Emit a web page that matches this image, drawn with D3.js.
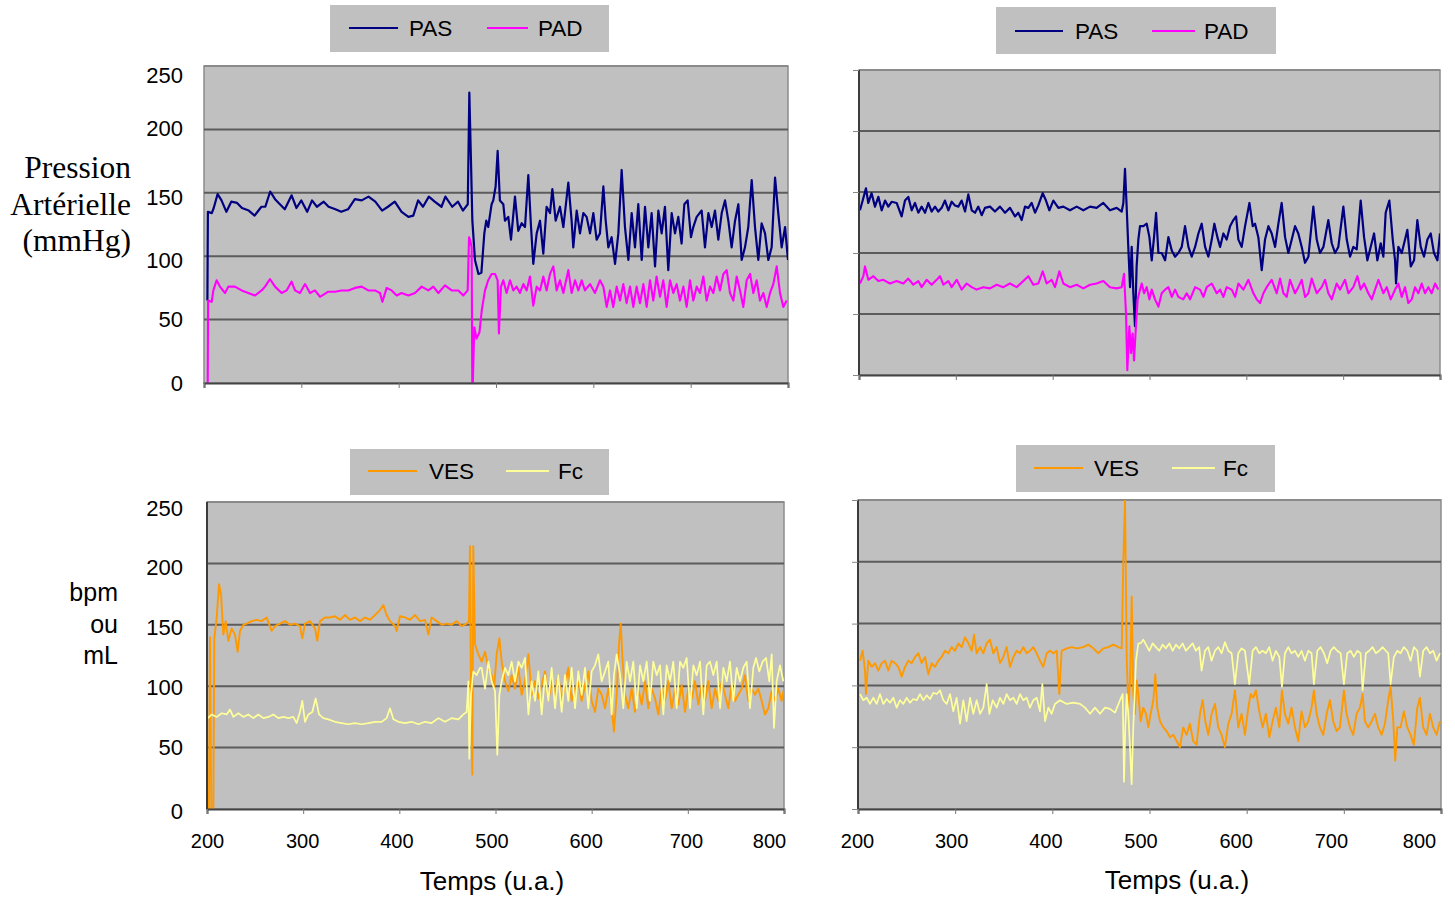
<!DOCTYPE html>
<html><head><meta charset="utf-8">
<script src="https://cdn.jsdelivr.net/npm/d3@7"></script>
<style>
body{margin:0;background:#fff}
svg{display:block}
text{font-family:"Liberation Sans",Arial,sans-serif;fill:#000}
</style>
</head><body>
<svg id="chart" width="1455" height="899"></svg>
<script>
// ---------------- data ----------------
const xTicks = [200, 300, 400, 500, 600, 700, 800];
const yTicks = [0, 50, 100, 150, 200, 250];
const topSeriesNames = ["PAS", "PAD"];
const bottomSeriesNames = ["VES", "Fc"];
const xTitle = "Temps (u.a.)";
const pressureTitle = ["Pression", "Artérielle", "(mmHg)"];
const bottomTitle = ["bpm", "ou", "mL"];

// [time, value]
const pasLeft = [[203.5,65],[204,135],[208,134],[210,138],[214,149],[218,144],[223,135],[228,143],[234,142],[239,138],[246,136],[252,132],[259,139],[263,139],[268,151],[273,145],[278,141],[283,137],[290,148],[295,138],[300,144],[306,135],[311,144],[316,139],[323,143],[328,139],[335,137],[341,135],[348,137],[355,145],[362,144],[369,147],[376,143],[383,136],[389,139],[396,143],[403,135],[410,131],[415,132],[420,144],[425,139],[431,147],[437,143],[444,139],[448,147],[455,139],[461,143],[466,136],[471,141],[472.6,229],[474.3,175],[475.7,128],[478.4,97],[482,86],[485,87],[488,118],[490,128],[492,123],[495.5,141],[497.2,144],[499.6,155],[501.7,183],[504,144],[507.5,141],[509.2,128],[512.6,131],[515.4,113],[519.5,147],[522.9,120],[526.4,126],[529.8,123],[533.2,164],[536,123],[538.3,94],[541.8,118],[545.2,128],[548.6,102],[552,139],[555.5,134],[557.9,153],[561.3,128],[565.7,139],[569.2,123],[574.3,158],[577.7,128],[579.4,107],[582.9,136],[586.3,118],[589.7,134],[593.1,131],[596.6,118],[600,134],[603.4,113],[606.8,118],[610.3,155],[612.7,128],[615.4,107],[618.8,115],[622.3,94],[625.7,118],[629.1,168],[632.5,123],[636,97],[639.4,134],[642.8,107],[646.2,141],[649.7,97],[653.1,139],[656.5,107],[659.9,134],[663.4,92],[666.8,136],[670.2,118],[673.6,139],[677,89],[680.5,134],[683.9,118],[687.3,131],[690.7,110],[693.5,141],[696.9,144],[700.3,115],[702.7,123],[706.2,131],[711.3,136],[714.7,107],[718.2,134],[721.6,123],[725,136],[728.4,113],[731.9,134],[735.3,144],[738.7,128],[742.1,107],[745.6,128],[749,141],[752.4,97],[755.8,107],[759.2,123],[762.7,160],[766.1,123],[769.5,97],[772.9,126],[776.4,118],[779.8,97],[783.2,107],[786.7,162],[790,134],[793.5,107],[797,123],[800,97]];

const padLeft = [[203.8,0],[204.2,65],[207.9,64],[209.6,73],[213,81],[216.4,76],[221.6,71],[225,76],[231.8,76],[238.7,73],[245.5,71],[252.4,69],[259.2,73],[262.7,76],[267.8,82],[273,76],[279.8,71],[284.9,73],[290,80],[293.5,73],[298.6,71],[303.8,78],[308.9,71],[314,73],[319.2,68],[327.7,72],[334.6,72],[341.4,73],[348.3,73],[355.1,75],[362,76],[368.8,73],[375.7,73],[380.8,71],[383.2,64],[387.7,75],[392.8,73],[398,69],[403,71],[410,69],[416.8,71],[423.6,76],[430.5,73],[435.6,76],[440.8,71],[447.6,77],[454.5,73],[461.3,73],[466.4,69],[470.9,73],[472.3,115],[473.6,112],[475,107],[475.6,0],[476.2,0],[477.7,44],[480,35],[483,40],[485.5,58],[488.7,73],[492,81],[495.5,86],[499,86],[501.7,81],[503,39],[505.1,76],[507.5,81],[510.9,71],[514.4,81],[517.8,73],[521.2,76],[524.6,71],[528.1,78],[531.5,73],[534.9,84],[538.3,61],[541.8,76],[545.2,73],[548.6,84],[552,73],[555.5,86],[558.9,92],[562.3,73],[565.7,81],[569.2,71],[574.3,89],[577.7,71],[581.2,81],[584.6,73],[588,81],[591.4,73],[596.6,78],[601.7,71],[606.8,81],[610.3,76],[613.7,60],[617.1,73],[620.5,60],[624,76],[627.4,65],[630.8,78],[634.2,63],[637.7,76],[641.1,60],[644.5,76],[647.9,63],[651.4,78],[654.8,60],[658.2,81],[661.6,65],[665,84],[668.5,68],[671.9,81],[675.3,60],[678.8,81],[682.2,71],[685.6,78],[689,65],[692.5,76],[695.9,60],[699.3,81],[702.7,65],[706.2,76],[709.6,71],[713,84],[716.4,65],[719.9,76],[723.3,71],[726.7,84],[730.1,73],[733.6,86],[737,89],[740.4,71],[743.8,65],[747.3,84],[750.7,73],[754.1,60],[757.5,81],[761,86],[764.4,71],[767.8,81],[771.2,65],[774.7,71],[778.1,60],[781.5,71],[784.9,78],[788.4,92],[791.8,71],[795.2,60],[798.6,65]];

const pasRight = [[201,135],[203.8,143],[207.2,153],[209.6,141],[213,149],[216.5,138],[220,146],[223.4,135],[226.9,143],[230.3,138],[233.7,142],[238.9,141],[244,130],[247.5,143],[250.9,146],[254.4,135],[257.8,141],[261.3,133],[264.7,138],[268.2,133],[271.6,141],[275,134],[278.5,138],[281.9,134],[285.4,137],[288.8,143],[292.3,135],[295.7,142],[299.1,139],[302.6,138],[306,143],[309.5,134],[312.9,148],[316.4,135],[319.8,133],[323.2,138],[326.7,131],[330.1,137],[335.3,138],[340.4,134],[345.6,138],[350.8,133],[355.9,137],[361.1,130],[364.5,133],[368,127],[371.4,138],[374.9,137],[378.3,141],[381.8,133],[385.2,139],[389.7,149],[393.1,143],[396.6,135],[400.7,143],[405.9,137],[411,138],[417.9,135],[424.8,138],[431.7,135],[438.6,138],[445.4,137],[452.3,141],[459.2,135],[466.1,137],[471.3,134],[473,141],[474.7,169],[476.4,138],[478.1,105],[479.9,72],[481.6,105],[483.3,67],[485,40],[486.7,89],[488.5,111],[490.2,122],[493.7,122],[497.1,124],[499.9,113],[502.3,94],[504.7,113],[506.8,133],[509.2,100],[512.6,100],[516.1,94],[519.5,113],[523,102],[526.4,97],[529.8,100],[533.3,105],[536.7,122],[540.2,105],[543.6,97],[547.1,105],[550.5,116],[553.9,124],[557.4,105],[560.8,97],[564.3,111],[567,124],[570.1,113],[572.9,105],[576.3,116],[579.7,111],[583.2,122],[586.6,127],[589.4,130],[591.8,111],[595.2,105],[598.7,122],[603.2,141],[606.6,122],[609,124],[612.4,113],[615.9,86],[619.3,111],[622.8,122],[626.2,116],[629.7,105],[633.1,124],[636.5,141],[640,113],[643.4,100],[646.9,111],[650.3,122],[653.7,116],[657.2,105],[660.6,92],[664.1,97],[669.2,138],[672.7,111],[676.1,100],[679.6,105],[684.7,127],[688.2,108],[691.6,100],[695,105],[700.2,138],[703.7,111],[707.1,97],[710.5,105],[714,103],[718.1,143],[721.6,113],[725,94],[728.4,105],[731.9,116],[735.3,94],[738.8,108],[741.5,97],[743.9,133],[747.7,143],[751.2,111],[753.6,94],[754.6,75],[757,105],[760.5,100],[763.9,111],[766.3,119],[769.8,89],[773.2,94],[776.6,127],[780.1,105],[783.5,97],[787,111],[790.4,116],[793.8,100],[797.3,94],[800,116]];

const padRight = [[201,75],[204.5,81],[206.2,89],[209.6,78],[214.8,81],[220,77],[225.1,78],[232,75],[238.9,77],[245.8,75],[250.9,79],[256.1,74],[261.3,77],[264.7,72],[269.9,78],[275,74],[280.2,78],[283.6,81],[287.1,74],[292.3,77],[295.7,72],[300.9,78],[306,70],[311.2,75],[316.4,72],[321.5,70],[328.4,72],[335.3,71],[342.2,74],[349.1,72],[355.9,75],[362.8,72],[369.7,77],[374.9,81],[380,74],[385.2,75],[389.7,85],[393.8,75],[399,78],[402.4,72],[406.9,85],[411,75],[417.9,72],[424.8,74],[431.7,71],[438.6,74],[445.4,75],[452.3,77],[459.2,72],[466.1,71],[471.3,72],[473.7,83],[475.7,51],[477.1,4],[479.2,40],[480.9,18],[482.6,34],[484,12],[486,40],[487.8,62],[490.2,70],[492,75],[494.4,67],[497.1,72],[499.9,62],[502.3,70],[505.7,62],[509.2,56],[512.6,67],[516.1,70],[519.5,72],[523,64],[526.4,70],[529.8,64],[535,62],[538.4,67],[541.9,62],[547.1,72],[552.2,70],[555.7,64],[559.1,72],[564.3,75],[569.4,67],[572.9,70],[576.3,64],[579.7,72],[584.9,70],[588.4,64],[591.8,75],[597,70],[602.1,78],[607.3,67],[610.7,62],[614.2,59],[617.6,67],[621,72],[626.2,78],[631.4,67],[634.8,79],[638.3,67],[641.7,64],[645.1,78],[650.3,67],[653.7,72],[657.2,78],[660.6,64],[664.1,67],[667.5,79],[672.7,67],[677.8,72],[681.3,78],[684.7,67],[688.2,62],[693.3,75],[696.8,70],[701.9,78],[705.4,67],[710.5,72],[714.7,81],[718.1,70],[721.6,75],[726,67],[729.5,62],[732.9,70],[736.4,78],[741.5,67],[745,72],[749.1,62],[753.6,70],[757,75],[760.5,64],[763.9,72],[767.3,59],[770.8,62],[774.2,72],[777.7,67],[781.1,75],[784.5,67],[788,72],[791.4,67],[794.9,75],[798.3,70]];

const vesLeft = [[202,0],[203.1,140],[204.5,0],[206.6,0],[207.6,139],[210,155],[212.5,183],[214.6,175],[217,142],[219.4,153],[222.2,137],[225.6,147],[229.1,142],[231.9,128],[234.3,145],[237.8,150],[241.2,151],[246.4,153],[251.6,154],[256.8,153],[262,156],[267.2,145],[270.7,149],[275.9,151],[281.1,153],[286.3,150],[291.5,151],[296.7,149],[299.1,139],[301.9,151],[307.1,153],[312.3,147],[314.7,137],[317.5,153],[322.7,156],[327.9,156],[333.1,157],[338.3,154],[343.5,158],[348.7,154],[353.9,156],[359.1,153],[364.3,156],[369.5,154],[374.7,158],[379.9,162],[383.4,166],[386.8,158],[390.3,153],[395.5,149],[397.2,145],[400.7,157],[405.9,156],[411.1,154],[416.3,158],[421.5,153],[426.7,154],[430.2,142],[433.6,156],[438.8,153],[444,150],[449.2,151],[454.4,150],[459.6,153],[464.8,149],[470,151],[472.4,153],[473.4,214],[474.5,93],[475.9,28],[476.9,214],[478.7,134],[482.2,126],[485.6,120],[489.1,128],[492.6,115],[496,109],[498.5,98],[501.2,126],[504,139],[506.4,120],[509.9,104],[513.4,96],[516.8,109],[520.3,98],[523.8,115],[527.2,93],[530.7,104],[534.2,126],[537.6,93],[541.1,104],[544.6,90],[548,101],[551.5,112],[555,88],[558.4,104],[561.9,93],[565.3,109],[568.8,88],[572.3,101],[575.7,115],[579.2,88],[582.7,98],[586.1,104],[589.6,88],[593.1,101],[596.5,112],[600,88],[603.5,79],[606.9,98],[610.4,93],[613.9,82],[617.3,98],[620.8,82],[623.2,63],[626,93],[628.4,134],[630.2,151],[632.2,120],[634.7,93],[638.1,82],[641.6,98],[645.1,79],[648.5,98],[652,85],[655.5,104],[658.9,82],[662.4,98],[665.9,90],[669.3,77],[672.8,98],[676.3,88],[679.7,104],[683.2,82],[686.7,98],[690.1,85],[693.6,101],[697.1,79],[700.5,98],[704,90],[707.5,104],[710.9,85],[714.4,101],[717.9,88],[721.3,104],[724.8,82],[728.3,98],[731.7,88],[735.2,104],[738.6,93],[742.1,82],[745.6,101],[749,88],[752.5,93],[756,98],[759.4,109],[762.9,88],[766.4,98],[769.8,93],[773.3,98],[776.8,88],[780.2,77],[783.7,82],[787.2,96],[790.6,88],[794.1,98],[797.6,88],[799.3,96]];

const fcLeft = [[201,74],[204.9,77],[210.1,75],[215.3,78],[220.5,77],[223.9,81],[227.4,75],[232.6,78],[237.8,75],[243,77],[248.2,74],[253.4,77],[258.6,74],[263.8,75],[269,77],[274.2,74],[279.4,75],[284.6,74],[289.8,75],[293.2,70],[296.7,79],[299.1,88],[301.9,71],[305.4,77],[309.5,79],[313,90],[316.5,77],[321,74],[326.2,73],[333.1,71],[340,70],[347,69],[353.9,70],[360.8,69],[367.8,70],[374.7,71],[381.6,71],[386.8,74],[390.3,82],[393.8,73],[399,71],[405.9,70],[412.8,71],[419.8,69],[426.7,71],[433.6,70],[440.6,74],[447.5,71],[454.4,74],[461.4,73],[466.6,77],[470,79],[471.8,104],[472.8,41],[474.5,93],[476.9,112],[480.4,109],[483.9,115],[485.6,115],[489.1,98],[492.6,120],[496,104],[499.5,96],[501.9,44],[504,93],[506.4,104],[509.9,115],[513.4,109],[516.8,120],[520.3,104],[523.8,120],[527.2,115],[530.7,123],[534.2,77],[537.6,104],[541.1,88],[544.6,112],[548,77],[551.5,109],[555,88],[558.4,115],[561.9,82],[565.3,109],[568.8,79],[572.3,109],[575.7,88],[579.2,115],[582.7,82],[586.1,112],[589.6,93],[593.1,115],[596.5,82],[600,112],[603.5,117],[606.9,126],[610.4,104],[613.9,112],[617.3,120],[620.8,77],[623.2,109],[626,126],[629.5,109],[632.9,82],[636.4,120],[639.9,104],[643.3,120],[646.8,82],[650.3,117],[653.7,104],[657.2,120],[660.7,88],[664.1,120],[667.6,109],[671.1,117],[674.5,77],[678,117],[681.5,104],[684.9,120],[688.4,82],[691.9,120],[695.3,115],[698.8,123],[702.3,82],[705.7,117],[709.2,109],[712.7,120],[716.1,77],[719.6,117],[723.1,120],[726.5,109],[730,120],[733.5,82],[736.9,115],[740.4,104],[743.8,120],[747.3,88],[750.8,115],[754.2,104],[757.7,115],[761.2,120],[764.6,82],[768.1,115],[770.9,123],[774.3,112],[777.8,120],[781.3,123],[784.7,104],[787.2,126],[789.6,66],[792.4,104],[795.8,117],[799.3,104]];

const vesRight = [[202.1,120],[204.8,128],[207.2,112],[208.2,93],[210.6,120],[214.1,115],[217.5,118],[220.9,112],[224.4,118],[227.8,120],[231.2,112],[234.6,120],[238.1,118],[241.5,115],[244.9,107],[248.4,115],[251.8,120],[255.2,118],[258.7,123],[262.1,126],[265.5,118],[269,123],[272.4,109],[275.8,118],[279.2,115],[282.7,120],[286.1,123],[289.5,128],[293,126],[296.4,131],[299.8,128],[303.3,134],[306.7,131],[310.1,139],[313.6,134],[317,128],[319.4,141],[322.1,126],[325.6,131],[329,126],[332.4,134],[335.8,137],[339.3,126],[342.7,131],[346.1,118],[349.6,123],[353,131],[356.4,115],[359.9,123],[363.3,128],[366.7,126],[370.2,131],[373.6,126],[377,128],[380.4,131],[383.9,126],[387.3,120],[390.7,115],[394.2,126],[397.6,128],[401,126],[404.5,128],[407.2,93],[409.6,128],[414.8,130],[419.9,131],[425,130],[431.9,131],[437,133],[442.2,130],[447.3,126],[452.5,130],[457.6,131],[462.8,133],[467.9,131],[471.4,130],[473.1,202],[474.8,250],[476.6,120],[478.3,82],[480,104],[481.7,172],[483.3,93],[485,77],[486.8,104],[488.5,93],[490.9,71],[493.6,82],[496.4,77],[498.8,66],[501.2,77],[503.9,88],[506,109],[508,82],[510.8,71],[514.2,66],[517.6,63],[521.1,58],[524.5,60],[527.9,55],[531.3,50],[534.8,66],[538.2,60],[541.6,69],[545,55],[548.5,52],[551.9,77],[554.7,88],[557.4,71],[560.5,60],[563.9,77],[567.4,85],[570.8,66],[574.2,60],[577.6,50],[581.1,69],[584.5,77],[587.9,96],[591.4,66],[594.8,77],[598.2,60],[601.7,82],[604.1,93],[606.8,90],[609.5,96],[613,79],[616.4,66],[619.8,77],[623.3,58],[626.7,71],[630.1,82],[633.6,66],[636.3,96],[639.4,77],[642.8,69],[646.2,82],[649.7,66],[653.1,55],[656.5,79],[660,66],[663.4,71],[666.8,82],[669.2,96],[672,77],[675.4,66],[678.8,60],[682.3,77],[685.7,88],[689.1,71],[692.6,63],[696,66],[700.1,96],[702.8,77],[706.3,66],[709.7,60],[713.1,77],[716.6,82],[719.3,93],[721.7,71],[725.1,66],[728.6,71],[732,77],[735.4,66],[738.9,60],[742.3,69],[745.7,88],[748.1,99],[750.9,71],[752.9,39],[755,66],[758.4,66],[761.8,79],[765.3,66],[768.7,60],[772.1,52],[775.6,82],[778.3,90],[781.7,66],[785.2,60],[788.6,77],[792,66],[795.5,60],[798.9,71]];

const fcRight = [[202.1,93],[205.5,88],[208.9,90],[212.3,85],[215.8,90],[219.2,85],[222.6,93],[226.1,85],[229.5,89],[232.9,86],[236.4,90],[239.8,82],[243.2,88],[246.7,85],[250.1,90],[253.5,86],[256.9,89],[260.4,88],[263.8,93],[267.2,88],[270.7,92],[274.1,89],[277.5,94],[281,93],[284.4,96],[287.8,88],[291.3,85],[294.7,93],[298.1,79],[301.5,90],[305,69],[308.4,88],[311.8,71],[315.3,90],[318.7,77],[322.1,88],[325.6,77],[329,82],[332.4,101],[335.2,77],[338.6,88],[342.7,82],[346.1,90],[349.6,85],[353,93],[356.4,88],[359.9,90],[363.3,85],[366.7,93],[370.2,88],[373.6,90],[377,82],[380.4,88],[383.9,90],[387.3,79],[389.7,101],[392.5,71],[395.9,82],[399.3,77],[402.7,85],[407.9,88],[414.8,85],[421.6,86],[428.5,85],[433.6,82],[438.8,77],[443.9,82],[449.1,77],[454.2,82],[459.3,81],[464.5,78],[469.6,88],[472.4,93],[473.8,22],[475.1,66],[476.5,93],[478.2,77],[479.9,50],[481.6,20],[483.3,66],[486.1,120],[488.5,134],[490.9,134],[493.6,137],[496.4,133],[499.8,128],[503.2,134],[506.6,131],[510.1,128],[513.5,133],[516.9,130],[520.4,134],[523.8,128],[527.2,133],[530.7,130],[534.1,134],[537.5,128],[540.9,131],[544.4,134],[547.8,128],[551.2,131],[553.6,112],[557.1,128],[560.5,131],[563.9,120],[567.4,128],[570.8,131],[574.2,126],[577.6,135],[581.1,128],[584.5,126],[587.9,101],[591.4,126],[594.8,130],[598.2,128],[602.7,101],[606.1,128],[609.5,131],[613,126],[616.4,128],[619.8,126],[623.3,131],[626.7,120],[630.1,128],[633.6,123],[636.3,99],[639.4,126],[642.8,131],[646.2,126],[649.7,128],[653.1,123],[656.5,128],[660,120],[663.4,128],[666.8,126],[669.2,101],[672.7,128],[676.1,131],[679.5,126],[682.9,118],[686.4,128],[689.8,131],[693.2,128],[696.7,126],[700.1,101],[703.5,126],[707,128],[710.4,123],[713.8,128],[717.2,126],[719.3,96],[722.7,126],[726.2,128],[729.6,131],[733,126],[736.5,128],[739.9,131],[743.3,128],[745.7,126],[748.1,101],[751.5,123],[755,128],[758.4,126],[761.8,131],[765.3,128],[768.7,120],[772.1,131],[775.6,128],[778.3,107],[781.7,128],[785.2,131],[788.6,126],[792,128],[795.5,120],[798.9,126]];

// ---------------- layout ----------------
const svg = d3.select("#chart");
svg.append("rect").attr("width", 1455).attr("height", 899).attr("fill", "#fff");

const colors = {PAS: "#000080", PAD: "#ff00ff", VES: "#ff9900", Fc: "#ffff99"};

const panels = [
  {id: "tl", x0: 204, x1: 788, y0: 66, y1: 383, series: [[pasLeft, colors.PAS, 2.2], [padLeft, colors.PAD, 2.1]],
   yLabels: true, yLabelPad: 21, yOff: {250: 9, 200: -1, 150: 5, 100: 4, 50: 0, 0: 0}, xLabels: false, leftLine: false, leftTicks: false},
  {id: "tr", x0: 859, x1: 1440, y0: 70, y1: 375, series: [[pasRight, colors.PAS, 2.2], [padRight, colors.PAD, 2.1]],
   yLabels: false, xLabels: false, leftLine: true, leftTicks: true},
  {id: "bl", x0: 207, x1: 784, y0: 502, y1: 809, series: [[vesLeft, colors.VES, 1.9], [fcLeft, colors.Fc, 1.7]],
   yLabels: true, yLabelPad: 24, yOff: {250: 6, 200: 4, 150: 3, 100: 1, 50: 0, 0: 2}, xLabels: true,
   xDx: [0, -1, -3, -4, -6, -2, -15], leftLine: true, leftTicks: false},
  {id: "br", x0: 858, x1: 1441, y0: 500, y1: 809, series: [[vesRight, colors.VES, 1.9], [fcRight, colors.Fc, 1.7]],
   yLabels: false, xLabels: true, xDx: [-1, -4, -7, -9, -11, -13, -22], leftLine: true, leftTicks: true}
];

panels.forEach(p => {
  const x = d3.scaleLinear().domain([200, 800]).range([p.x0, p.x1]);
  const y = d3.scaleLinear().domain([0, 250]).range([p.y1, p.y0]);
  const g = svg.append("g");

  g.append("clipPath").attr("id", "clip-" + p.id)
    .append("rect").attr("x", p.x0).attr("y", p.y0).attr("width", p.x1 - p.x0).attr("height", p.y1 - p.y0);

  // plot area
  g.append("rect").attr("x", p.x0).attr("y", p.y0).attr("width", p.x1 - p.x0).attr("height", p.y1 - p.y0)
    .attr("fill", "#c0c0c0").attr("stroke", "#8c8c8c").attr("stroke-width", 1.5);

  // gridlines
  g.selectAll(".grid").data(yTicks.filter(v => v > 0 && v < 250)).join("line")
    .attr("x1", p.x0).attr("x2", p.x1).attr("y1", d => y(d)).attr("y2", d => y(d))
    .attr("stroke", "#5c5c5c").attr("stroke-width", 2);
  g.append("line").attr("x1", p.x0).attr("x2", p.x1).attr("y1", y(250)).attr("y2", y(250))
    .attr("stroke", "#8a8a8a").attr("stroke-width", 2);

  // series
  const line = d3.line().x(d => x(d[0])).y(d => y(d[1]));
  const sg = g.append("g").attr("clip-path", `url(#clip-${p.id})`);
  p.series.forEach(([data, col, w]) => {
    sg.append("path").datum(data).attr("d", line).attr("fill", "none")
      .attr("stroke", col).attr("stroke-width", w).attr("stroke-linejoin", "round");
  });

  // x axis
  const xa = g.append("g").attr("transform", `translate(0,${p.y1})`)
    .call(d3.axisBottom(x).tickValues(xTicks).tickSize(5).tickPadding(20)
      .tickFormat(p.xLabels ? d3.format("d") : () => ""));
  xa.select(".domain").attr("stroke", "#444").attr("stroke-width", 2);
  xa.selectAll(".tick line").attr("stroke", "#777").attr("stroke-width", 1);
  xa.selectAll(".tick text").attr("font-size", 20).attr("font-family", "Liberation Sans, Arial, sans-serif")
    .attr("fill", "#000").attr("dx", (d, i) => p.xDx ? p.xDx[i] : 0);

  // left axis line
  if (p.leftLine) {
    g.append("line").attr("x1", p.x0).attr("x2", p.x0).attr("y1", p.y0).attr("y2", p.y1)
      .attr("stroke", "#3c3c3c").attr("stroke-width", 2);
  }
  if (p.leftTicks) {
    const la = g.append("g").attr("transform", `translate(${p.x0},0)`)
      .call(d3.axisLeft(y).tickValues(yTicks).tickSize(6).tickFormat(() => ""));
    la.select(".domain").remove();
    la.selectAll(".tick line").attr("stroke", "#888");
  }
  if (p.yLabels) {
    const ya = g.append("g").attr("transform", `translate(${p.x0},0)`)
      .call(d3.axisLeft(y).tickValues(yTicks).tickSize(0).tickPadding(p.yLabelPad).tickFormat(d3.format("d")));
    ya.select(".domain").remove();
    ya.selectAll(".tick text").attr("font-size", 22).attr("fill", "#000")
      .attr("font-family", "Liberation Sans, Arial, sans-serif")
      .attr("transform", d => `translate(0,${p.yOff[d]})`);
  }
});

// ---------------- legends ----------------
function legend(box, items) {
  const g = svg.append("g");
  g.append("rect").attr("x", box.x).attr("y", box.y).attr("width", box.w).attr("height", box.h).attr("fill", "#c0c0c0");
  items.forEach(it => {
    g.append("line").attr("x1", it.l1).attr("x2", it.l2).attr("y1", box.ly).attr("y2", box.ly)
      .attr("stroke", it.color).attr("stroke-width", 2);
    g.append("text").attr("x", it.tx).attr("y", box.ty).attr("font-size", 22.5).text(it.name);
  });
}
legend({x: 330, y: 5, w: 279, h: 47, ly: 28, ty: 36},
  [{name: topSeriesNames[0], color: colors.PAS, l1: 349, l2: 398, tx: 409},
   {name: topSeriesNames[1], color: colors.PAD, l1: 487, l2: 528, tx: 538}]);
legend({x: 996, y: 7, w: 280, h: 47, ly: 31, ty: 39},
  [{name: topSeriesNames[0], color: colors.PAS, l1: 1015, l2: 1063, tx: 1075},
   {name: topSeriesNames[1], color: colors.PAD, l1: 1152, l2: 1195, tx: 1204}]);
legend({x: 350, y: 449, w: 259, h: 46, ly: 471, ty: 479},
  [{name: bottomSeriesNames[0], color: colors.VES, l1: 368, l2: 417, tx: 429},
   {name: bottomSeriesNames[1], color: colors.Fc, l1: 506, l2: 549, tx: 558}]);
legend({x: 1016, y: 445, w: 259, h: 47, ly: 468, ty: 476},
  [{name: bottomSeriesNames[0], color: colors.VES, l1: 1034, l2: 1083, tx: 1094},
   {name: bottomSeriesNames[1], color: colors.Fc, l1: 1172, l2: 1215, tx: 1223}]);

// ---------------- titles ----------------
[178, 215, 251].forEach((yy, i) => {
  svg.append("text").attr("x", 131).attr("y", yy).attr("text-anchor", "end")
    .style("font-family", "'Liberation Serif','Times New Roman',serif").attr("font-size", 31.5).text(pressureTitle[i]);
});
[601, 633, 664].forEach((yy, i) => {
  svg.append("text").attr("x", 118).attr("y", yy).attr("text-anchor", "end").attr("font-size", 25).text(bottomTitle[i]);
});
svg.append("text").attr("x", 492).attr("y", 890).attr("text-anchor", "middle").attr("font-size", 26).text(xTitle);
svg.append("text").attr("x", 1177).attr("y", 889).attr("text-anchor", "middle").attr("font-size", 26).text(xTitle);
</script>
</body></html>
